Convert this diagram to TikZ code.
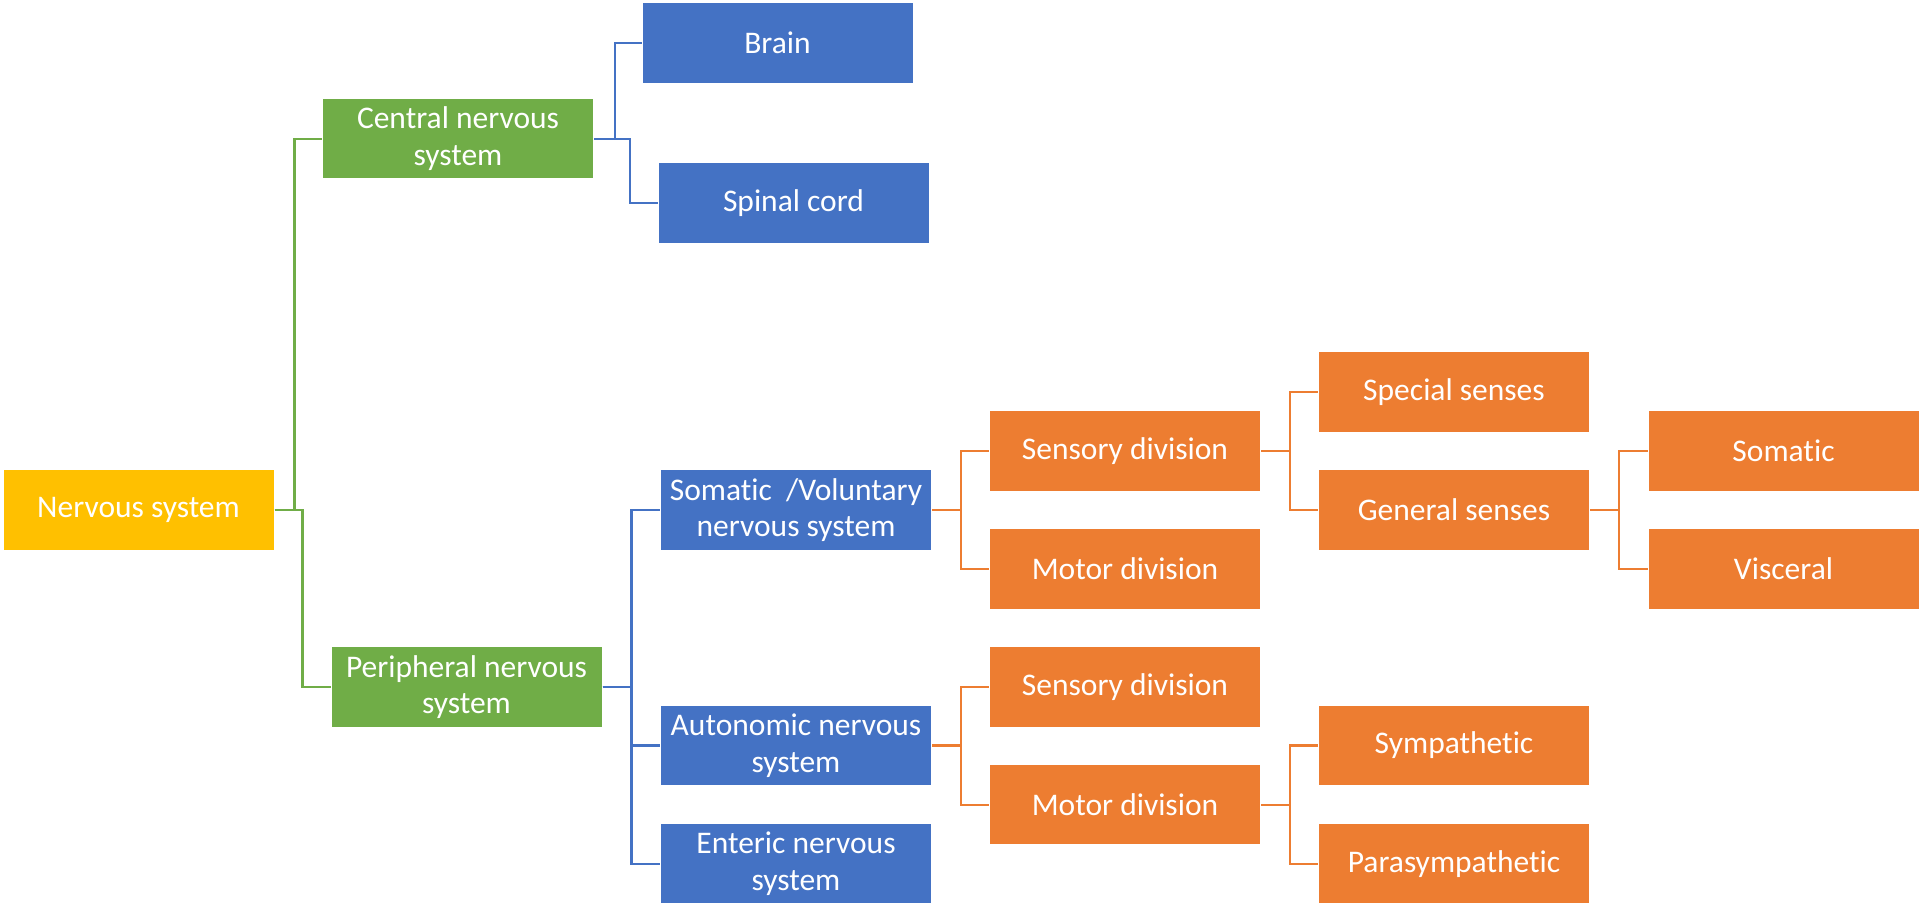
\documentclass[tikz,border=0pt]{standalone}
\usepackage{fontspec}
\setmainfont{Carlito}[Ligatures={NoCommon}, RawFeature={-calt;-dlig;-clig}]
\usetikzlibrary{positioning}
\definecolor{nsyellow}{HTML}{FFC000}
\definecolor{nsgreen}{HTML}{70AD47}
\definecolor{nsblue}{HTML}{4472C4}
\definecolor{nsorange}{HTML}{ED7D31}
\tikzset{
  box/.style={draw=white, line width=1pt, text=white, align=center, inner sep=0pt,
    minimum width=271pt, minimum height=80.5pt, font=\fontsize{31.5}{36.7}\selectfont},
  link/.style={line width=2.2pt}
}

\begin{document}
\begin{tikzpicture}[x=1pt,y=-1pt]

  \newcommand\ColA{138.5};
  \newcommand\ColB{462};
  \newcommand\ColC{796};
  \newcommand\ColD{1125};
  \newcommand\ColE{1454};
  \newcommand\ColF{1783.5};

  \useasboundingbox (0,0) rectangle (1921,905);

  % level 0 and 1
  \node[box, fill=nsyellow] (ns)  at (\ColA, 510)   {Nervous system};
  \node[box, fill=nsgreen]  (cns) at (\ColB-4, 138.7) {Central nervous\\system};
  \node[box, fill=nsgreen]  (pns) at (\ColB+4.5, 687) {Peripheral nervous\\system};

  % level 2
  \node[box, fill=nsblue] (brain)  at (\ColC-18.5, 42.8) {Brain};
  \node[box, fill=nsblue] (spinal) at (\ColC-2.5, 203)   {Spinal cord};
  \node[box, fill=nsblue] (sns) at (\ColC, 510)   {Somatic~ /Voluntary\\nervous system};
  \node[box, fill=nsblue] (ans) at (\ColC, 745.5) {Autonomic nervous\\system};
  \node[box, fill=nsblue] (ens) at (\ColC, 863.7) {Enteric nervous\\system};

  % level 3
  \node[box, fill=nsorange] (ssens) at (\ColD, 451)   {Sensory division};
  \node[box, fill=nsorange] (smot)  at (\ColD, 569)   {Motor division};
  \node[box, fill=nsorange] (asens) at (\ColD, 687)   {Sensory division};
  \node[box, fill=nsorange] (amot)  at (\ColD, 804.7) {Motor division};

  % level 4 and 5
  \node[box, fill=nsorange] (special) at (\ColE, 392)   {Special senses};
  \node[box, fill=nsorange] (general) at (\ColE, 510)   {General senses};
  \node[box, fill=nsorange] (symp)    at (\ColE, 745.5) {Sympathetic};
  \node[box, fill=nsorange] (para)    at (\ColE, 863.7) {Parasympathetic};
  \node[box, fill=nsorange] (somatic)  at (\ColF, 451) {Somatic};
  \node[box, fill=nsorange] (visceral) at (\ColF, 569) {Visceral};

  \draw[link, nsgreen] (ns.east) -- ++(20,0) |- (cns.west);
  \draw[link, nsgreen] (ns.east) -- ++(28,0) |- (pns.west);

  \draw[link, nsblue] (cns.east) -- ++(21,0) |- (brain.west);
  \draw[link, nsblue] (cns.east) -- ++(36,0) |- (spinal.west);
  \foreach \n in {sns,ans,ens}
    \draw[link, nsblue] (pns.east) -- ++(29,0) |- (\n.west);

  \foreach \a/\b in {sns/ssens, sns/smot, ans/asens, ans/amot,
                     ssens/special, ssens/general, amot/symp, amot/para,
                     general/somatic, general/visceral}
    \draw[link, nsorange] (\a.east) -- ++(29,0) |- (\b.west);

\end{tikzpicture}
\end{document}
